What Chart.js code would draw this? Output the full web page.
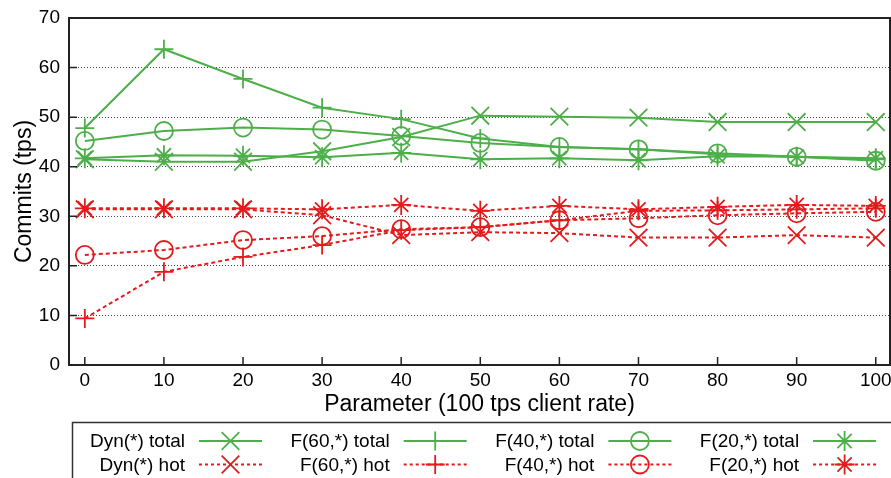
<!DOCTYPE html>
<html>
<head>
<meta charset="utf-8">
<script src="https://cdn.jsdelivr.net/npm/chart.js@4.4.1/dist/chart.umd.min.js"></script>
<style>
html, body { margin: 0; padding: 0; background: #fff; }
</style>
</head>
<body>
<canvas id="chart" width="891" height="478"></canvas>
<script>
// x values (parameter, 100 tps client rate)
const params = [0, 10, 20, 30, 40, 50, 60, 70, 80, 90, 100];
const yTicks = [0, 10, 20, 30, 40, 50, 60, 70];

// total commits (tps)
const dynTotal = [41.5, 41.0, 41.0, 43.1, 46.0, 50.3, 50.1, 49.9, 49.0, 49.0, 49.0];
const f60Total = [47.8, 63.7, 57.7, 51.9, 49.6, 45.7, 44.0, 43.5, 42.5, 42.0, 41.5];
const f40Total = [45.2, 47.2, 47.9, 47.5, 46.2, 44.8, 44.0, 43.5, 42.7, 42.0, 41.2];
const f20Total = [41.7, 42.3, 42.2, 41.9, 42.8, 41.5, 41.7, 41.3, 42.1, 42.0, 41.7];

// hot commits (tps)
const dynHot = [31.4, 31.4, 31.4, 30.2, 26.2, 26.8, 26.6, 25.7, 25.7, 26.2, 25.7];
const f60Hot = [9.4, 18.8, 21.8, 24.2, 27.2, 27.8, 29.2, 31.1, 31.2, 31.4, 31.6];
const f40Hot = [22.2, 23.2, 25.2, 26.0, 27.4, 27.8, 29.2, 29.6, 30.2, 30.6, 30.9];
const f20Hot = [31.6, 31.6, 31.6, 31.4, 32.3, 31.1, 32.1, 31.4, 31.9, 32.3, 32.1];

const GREEN = '#4daf4a';
const RED = '#e41a1c';
const FONT = '"Liberation Sans", Arial, Helvetica, sans-serif';
const radii = { crossRot: 12.5, cross: 9.5, circle: 9, star: 10 };

function series(label, values, color, style, dashed) {
    return {
        label: label,
        data: params.map((p, i) => ({ x: p, y: values[i] })),
        borderColor: color,
        borderWidth: 2,
        borderDash: dashed ? [4, 3] : [],
        pointStyle: style,
        pointRadius: radii[style],
        pointBorderColor: color,
        pointBackgroundColor: 'rgba(0,0,0,0)',
        pointBorderWidth: 1.8,
        fill: false,
        tension: 0
    };
}

const datasets = [
    series('Dyn(*) total', dynTotal, GREEN, 'crossRot', false),
    series('F(60,*) total', f60Total, GREEN, 'cross', false),
    series('F(40,*) total', f40Total, GREEN, 'circle', false),
    series('F(20,*) total', f20Total, GREEN, 'star', false),
    series('Dyn(*) hot', dynHot, RED, 'crossRot', true),
    series('F(60,*) hot', f60Hot, RED, 'cross', true),
    series('F(40,*) hot', f40Hot, RED, 'circle', true),
    series('F(20,*) hot', f20Hot, RED, 'star', true)
];

// frame, inward ticks and gnuplot style key below the plot
const framePlugin = {
    id: 'frame',
    afterDraw(chart) {
        const ctx = chart.ctx;
        const a = chart.chartArea;
        const xs = chart.scales.x, ys = chart.scales.y;
        ctx.save();
        ctx.strokeStyle = '#222';
        ctx.lineWidth = 2;
        ctx.setLineDash([]);
        ctx.strokeRect(a.left, a.top, a.right - a.left, a.bottom - a.top);
        ctx.lineWidth = 1.5;
        ctx.beginPath();
        params.forEach(p => {
            const px = xs.getPixelForValue(p);
            ctx.moveTo(px, a.bottom);
            ctx.lineTo(px, a.bottom - 8);
        });
        yTicks.forEach(v => {
            const py = ys.getPixelForValue(v);
            ctx.moveTo(a.left, py);
            ctx.lineTo(a.left + 8, py);
        });
        ctx.stroke();

        // key box
        ctx.lineWidth = 1.5;
        ctx.strokeStyle = '#333';
        ctx.strokeRect(72.5, 422.5, 830, 70);

        ctx.font = '19px ' + FONT;
        ctx.fillStyle = '#000';
        ctx.textAlign = 'right';
        ctx.textBaseline = 'middle';
        const ds = chart.data.datasets;
        for (let col = 0; col < 4; col++) {
            const tx = 185 + col * 204.7;
            [ds[col], ds[col + 4]].forEach((d, row) => {
                const ty = 441 + row * 23.5;
                ctx.fillText(d.label, tx, ty + 1);
                ctx.strokeStyle = d.borderColor;
                ctx.lineWidth = 2;
                ctx.setLineDash(row === 1 ? [3, 3] : []);
                ctx.beginPath();
                ctx.moveTo(tx + 14, ty);
                ctx.lineTo(tx + 77, ty);
                ctx.stroke();
                ctx.setLineDash([]);
                ctx.lineWidth = d.pointBorderWidth;
                ctx.fillStyle = 'rgba(0,0,0,0)';
                Chart.helpers.drawPoint(ctx, {
                    pointStyle: d.pointStyle,
                    radius: d.pointRadius,
                    borderWidth: d.pointBorderWidth,
                    rotation: 0
                }, tx + 45.5, ty);
                ctx.fillStyle = '#000';
            });
        }
        ctx.restore();
    }
};

const ctx = document.getElementById('chart').getContext('2d');
const chart = new Chart(ctx, {
    type: 'line',
    data: { datasets: datasets },
    plugins: [framePlugin],
    options: {
        responsive: false,
        animation: false,
        devicePixelRatio: 1,
        layout: { autoPadding: false, padding: { top: 18, right: 1, left: 0, bottom: 0 } },
        plugins: {
            legend: { display: false },
            tooltip: { enabled: false }
        },
        scales: {
            x: {
                type: 'linear',
                min: -2.0,
                max: 101.8,
                afterBuildTicks: axis => { axis.ticks = params.map(v => ({ value: v })); },
                afterFit: axis => {
                    axis.height = 113;
                    axis.paddingLeft = 0;
                    axis.paddingRight = 0;
                },
                grid: { display: false, drawTicks: false },
                border: { display: false },
                ticks: {
                    padding: 4,
                    color: '#000',
                    font: { family: FONT, size: 19 },
                    maxRotation: 0
                },
                title: {
                    display: true,
                    text: 'Parameter (100 tps client rate)',
                    color: '#000',
                    font: { family: FONT, size: 23 },
                    padding: { top: 0, bottom: 60 }
                }
            },
            y: {
                min: 0,
                max: 70,
                afterBuildTicks: axis => { axis.ticks = yTicks.map(v => ({ value: v })); },
                afterFit: axis => {
                    axis.width = 69;
                    axis.paddingTop = 0;
                    axis.paddingBottom = 0;
                },
                grid: {
                    drawTicks: false,
                    color: ctx => (ctx.tick && (ctx.tick.value === 0 || ctx.tick.value === 70)) ? 'rgba(0,0,0,0)' : '#444',
                    lineWidth: 1
                },
                border: { display: false, dash: [1, 2] },
                ticks: {
                    padding: 9,
                    color: '#000',
                    font: { family: FONT, size: 19 }
                },
                title: {
                    display: true,
                    text: 'Commits (tps)',
                    color: '#000',
                    font: { family: FONT, size: 23 },
                    padding: { top: 11, bottom: 0 }
                }
            }
        }
    }
});
</script>
</body>
</html>
